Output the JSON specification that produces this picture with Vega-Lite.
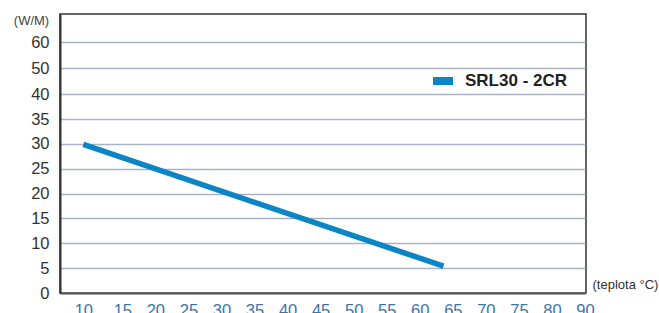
{
  "$schema": "https://vega.github.io/schema/vega-lite/v6.json",
  "width": 526,
  "height": 279,
  "autosize": "none",
  "padding": {"left": 60, "top": 14, "right": 73, "bottom": 20},
  "background": "white",
  "config": {
    "font": "Liberation Sans",
    "view": {"stroke": "#333333", "strokeWidth": 1.5}
  },
  "data": {
    "values": [
      {"t": 10, "w": 29.9, "series": "SRL30 - 2CR"},
      {"t": 63.6, "w": 5.4, "series": "SRL30 - 2CR"}
    ]
  },
  "mark": {"type": "line", "strokeWidth": 5.5, "strokeCap": "butt"},
  "encoding": {
    "x": {
      "field": "t",
      "type": "quantitative",
      "scale": {"domain": [5, 10, 15, 85], "range": [0, 23.3, 62.3, 525], "nice": false, "zero": false},
      "axis": {
        "values": [10, 15, 20, 25, 30, 35, 40, 45, 50, 55, 60, 65, 70, 75, 80, 85],
        "labelExpr": "datum.value == 85 ? '90' : datum.label",
        "grid": false,
        "ticks": false,
        "domainColor": "#555555",
        "domainWidth": 2,
        "labelColor": "#3a74aa",
        "labelFontSize": 16.5,
        "labelPadding": 9,
        "labelFlush": false,
        "labelOverlap": false,
        "title": "(teplota °C)",
        "titleFontSize": 13,
        "titleFontWeight": "normal",
        "titleColor": "#333333",
        "titleAlign": "left",
        "titleAnchor": "start",
        "titleBaseline": "middle",
        "titleX": 532,
        "titleY": -9
      }
    },
    "y": {
      "field": "w",
      "type": "quantitative",
      "scale": {"domain": [0, 40, 60, 70], "range": [279, 80.3, 28, 0], "nice": false, "zero": false},
      "axis": {
        "values": [0, 5, 10, 15, 20, 25, 30, 35, 40, 50, 60],
        "grid": true,
        "gridColor": "#a9b3c5",
        "gridWidth": 1.5,
        "ticks": false,
        "domainColor": "#333333",
        "domainWidth": 2,
        "labelColor": "#333333",
        "labelFontSize": 16.5,
        "labelPadding": 11,
        "labelFlush": false,
        "labelOverlap": false,
        "title": "(W/M)",
        "titleAngle": 0,
        "titleFontSize": 13,
        "titleFontWeight": "normal",
        "titleColor": "#444444",
        "titleAlign": "center",
        "titleBaseline": "middle",
        "titleX": -29,
        "titleY": 6
      }
    },
    "color": {
      "field": "series",
      "type": "nominal",
      "scale": {"range": ["#0a85c5"]},
      "legend": {
        "title": null,
        "orient": "none",
        "legendX": 373,
        "legendY": 57,
        "padding": 0,
        "symbolType": "M-1,-0.4H1V0.4H-1Z",
        "symbolSize": 400,
        "symbolStrokeWidth": 0,
        "labelFontSize": 17,
        "labelFontWeight": "bold",
        "labelColor": "#222222",
        "labelOffset": 12,
        "encode": {"symbols": {"update": {"fill": {"value": "#0a85c5"}, "strokeWidth": {"value": 0}}}}
      }
    }
  }
}
